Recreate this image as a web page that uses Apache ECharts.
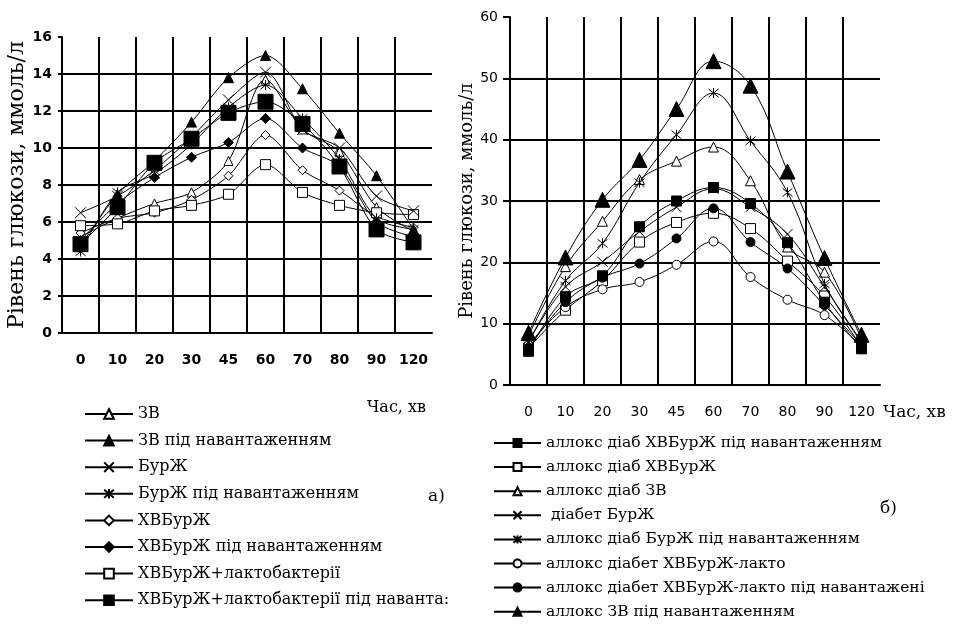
<!DOCTYPE html>
<html>
<head>
<meta charset="utf-8">
<script src="https://cdn.jsdelivr.net/npm/echarts@6/dist/echarts.min.js"></script>
<style>
  html, body { margin: 0; padding: 0; background: #fff; }
  #chart { width: 958px; height: 640px; }
</style>
</head>
<body>
<div id="chart"></div>
<script>
// time points, min
const times = ['0', '10', '20', '30', '45', '60', '70', '80', '90', '120'];

// a) left panel, mmol/l
const leftNames = [
  'ЗВ',
  'ЗВ під навантаженням',
  'БурЖ',
  'БурЖ під навантаженням',
  'ХВБурЖ',
  'ХВБурЖ під навантаженням',
  'ХВБурЖ+лактобактерії',
  'ХВБурЖ+лактобактерії під наванта:'
];
const zv          = [5.2, 6.2, 7.0, 7.6, 9.3, 13.7, 11.0, 9.8, 6.8, 5.5];
const zvLoad      = [4.7, 7.5, 9.3, 11.4, 13.8, 15.0, 13.2, 10.8, 8.5, 5.6];
const bur         = [6.5, 7.4, 8.8, 10.6, 12.6, 14.1, 11.0, 10.0, 7.4, 6.6];
const burLoad     = [4.4, 7.6, 8.6, 10.2, 12.2, 13.4, 11.6, 9.4, 6.2, 5.6];
const hv          = [5.4, 6.2, 6.5, 7.2, 8.5, 10.7, 8.8, 7.7, 6.3, 5.7];
const hvLoad      = [5.0, 7.0, 8.4, 9.5, 10.3, 11.6, 10.0, 9.0, 6.0, 5.2];
const hvLacto     = [5.8, 5.9, 6.6, 6.9, 7.5, 9.1, 7.6, 6.9, 6.5, 6.4];
const hvLactoLoad = [4.8, 6.8, 9.2, 10.5, 11.9, 12.5, 11.3, 9.0, 5.6, 4.9];

// б) right panel, mmol/l
const rightNames = [
  'аллокс діаб ХВБурЖ під навантаженням',
  'аллокс діаб ХВБурЖ',
  'аллокс діаб ЗВ',
  ' діабет БурЖ',
  'аллокс діаб БурЖ під навантаженням',
  'аллокс діабет ХВБурЖ-лакто',
  'аллокс діабет ХВБурЖ-лакто під навантажені',
  'аллокс ЗВ під навантаженням'
];
const axHvLoad      = [5.5, 14.4, 17.8, 25.8, 30.0, 32.2, 29.6, 23.2, 13.5, 5.9];
const axHv          = [6.0, 12.2, 17.0, 23.3, 26.5, 28.0, 25.5, 20.2, 14.5, 6.2];
const axZv          = [8.0, 19.3, 26.7, 33.5, 36.5, 38.8, 33.3, 22.5, 18.4, 7.5];
const diabBur       = [7.0, 16.0, 20.1, 25.0, 29.0, 32.0, 29.0, 24.6, 16.0, 7.0];
const axBurLoad     = [7.0, 17.0, 23.1, 33.0, 40.8, 47.6, 39.8, 31.4, 16.5, 7.0];
const axHvLacto     = [6.5, 12.7, 15.6, 16.8, 19.6, 23.4, 17.6, 13.9, 11.4, 6.3];
const axHvLactoLoad = [6.0, 13.5, 17.5, 19.8, 23.9, 28.8, 23.3, 19.0, 13.0, 6.5];
const axZvLoad      = [8.5, 20.8, 30.2, 36.7, 45.0, 52.8, 48.8, 34.8, 20.7, 8.2];

const CROSS = 'path://M0,0L10,10M10,0L0,10';
const STAR = 'path://M0,0L10,10M10,0L0,10M5,-1L5,11';

function line(name, data, symbol, size, filled, idx, smooth) {
  return {
    name,
    type: 'line',
    xAxisIndex: idx,
    yAxisIndex: idx,
    data,
    smooth,
    symbol,
    symbolSize: size,
    showAllSymbol: true,
    lineStyle: { color: '#000', width: 1 },
    itemStyle: { color: filled ? '#000' : '#fff', borderColor: '#000', borderWidth: 1 },
    emphasis: { disabled: true },
    z: filled ? 3 : 2,
  };
}

const gridLine = { color: '#000', width: 2 };

const chart = echarts.init(document.getElementById('chart'));
chart.setOption({
  backgroundColor: '#fff',
  animation: false,
  grid: [
    { left: 62, top: 37, width: 370, height: 296 },
    { left: 510, top: 17, width: 370, height: 368 },
  ],
  xAxis: [
    {
      type: 'category', gridIndex: 0, data: times,
      axisLine: { lineStyle: gridLine },
      axisTick: { interval: 0, length: 6, lineStyle: gridLine },
      splitLine: { show: true, interval: 0, showMinLine: false, showMaxLine: false, lineStyle: gridLine },
      axisLabel: { interval: 0, color: '#000', fontFamily: 'DejaVu Sans', fontWeight: 'bold', fontSize: 14, margin: 20 },
    },
    {
      type: 'category', gridIndex: 1, data: times,
      axisLine: { lineStyle: gridLine },
      axisTick: { interval: 0, length: 5, lineStyle: gridLine },
      splitLine: { show: true, interval: 0, showMinLine: false, showMaxLine: false, lineStyle: gridLine },
      axisLabel: { interval: 0, color: '#000', fontFamily: 'DejaVu Sans', fontSize: 14, margin: 20 },
    },
  ],
  yAxis: [
    {
      type: 'value', gridIndex: 0, min: 0, max: 16, interval: 2,
      name: 'Рівень глюкози, ммоль/л', nameLocation: 'middle', nameGap: 34,
      nameTextStyle: { color: '#000', fontFamily: 'DejaVu Serif', fontSize: 22 },
      axisLine: { show: true, lineStyle: gridLine },
      axisTick: { show: true, length: 4, lineStyle: gridLine },
      splitLine: { show: true, showMaxLine: false, lineStyle: gridLine },
      axisLabel: { color: '#000', fontFamily: 'DejaVu Sans', fontWeight: 'bold', fontSize: 14, margin: 10 },
    },
    {
      type: 'value', gridIndex: 1, min: 0, max: 60, interval: 10,
      name: 'Рівень глюкози, ммоль/л', nameLocation: 'middle', nameGap: 33,
      nameTextStyle: { color: '#000', fontFamily: 'DejaVu Serif', fontSize: 18 },
      axisLine: { show: true, lineStyle: gridLine },
      axisTick: { show: true, length: 7, lineStyle: gridLine },
      splitLine: { show: true, showMaxLine: false, lineStyle: gridLine },
      axisLabel: { color: '#000', fontFamily: 'DejaVu Sans', fontSize: 14, margin: 12 },
    },
  ],
  legend: [
    {
      data: leftNames, orient: 'vertical', left: 84, top: 406, padding: 0,
      itemWidth: 48, itemHeight: 12, itemGap: 10.6, selectedMode: false,
      textStyle: { color: '#000', fontFamily: 'DejaVu Serif', fontSize: 16 },
    },
    {
      data: rightNames, orient: 'vertical', left: 493, top: 435, padding: 0,
      itemWidth: 47, itemHeight: 10, itemGap: 8.1, selectedMode: false,
      textStyle: { color: '#000', fontFamily: 'DejaVu Serif', fontSize: 15.5 },
    },
  ],
  graphic: [
    { type: 'text', left: 367, top: 400, style: { text: 'Час, хв', fill: '#000', font: '16px "DejaVu Serif"' } },
    { type: 'text', left: 428, top: 488, style: { text: 'а)', fill: '#000', font: '17px "DejaVu Serif"' } },
    { type: 'text', left: 883, top: 404, style: { text: 'Час, хв', fill: '#000', font: '17px "DejaVu Serif"' } },
    { type: 'text', left: 880, top: 500, style: { text: 'б)', fill: '#000', font: '17px "DejaVu Serif"' } },
  ],
  series: [
    line(leftNames[0], zv, 'triangle', 9, false, 0, 0.3),
    line(leftNames[1], zvLoad, 'triangle', 10, true, 0, 0.3),
    line(leftNames[2], bur, CROSS, 11, true, 0, 0.3),
    line(leftNames[3], burLoad, STAR, 10, true, 0, 0.3),
    line(leftNames[4], hv, 'diamond', 9, false, 0, 0.3),
    line(leftNames[5], hvLoad, 'diamond', 10, true, 0, 0.3),
    line(leftNames[6], hvLacto, 'rect', 10, false, 0, 0.3),
    line(leftNames[7], hvLactoLoad, 'rect', 15, true, 0, 0.3),

    line(rightNames[0], axHvLoad, 'rect', 10, true, 1, 0.4),
    line(rightNames[1], axHv, 'rect', 10, false, 1, 0.4),
    line(rightNames[2], axZv, 'triangle', 10, false, 1, 0.4),
    line(rightNames[3], diabBur, CROSS, 10, true, 1, 0.4),
    line(rightNames[4], axBurLoad, STAR, 10, true, 1, 0.4),
    line(rightNames[5], axHvLacto, 'circle', 9, false, 1, 0.4),
    line(rightNames[6], axHvLactoLoad, 'circle', 9, true, 1, 0.4),
    line(rightNames[7], axZvLoad, 'triangle', 15, true, 1, 0.4),
  ],
});
</script>
</body>
</html>
